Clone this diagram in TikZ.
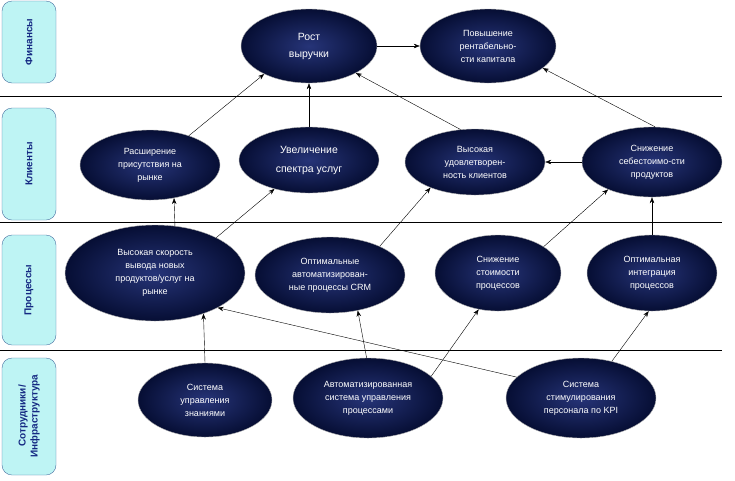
\documentclass[tikz,border=0pt]{standalone}
\usepackage{fontspec}
\setmainfont{Liberation Sans}
\usetikzlibrary{shapes.geometric,arrows.meta}
\definecolor{navyin}{RGB}{38,52,120}
\definecolor{navyout}{RGB}{6,14,52}
\definecolor{lanefill}{RGB}{190,244,244}
\definecolor{lanedraw}{RGB}{70,110,160}
\definecolor{lanetext}{RGB}{20,40,130}
\tikzset{
  goal/.style={ellipse,inner sep=0pt,inner color=navyin,outer color=navyout,draw=gray!60,
    text=white,align=center,font=\fontsize{9}{13}\selectfont},
  lane/.style={rounded corners=10pt,fill=lanefill,draw=lanedraw},
  lanelab/.style={text=lanetext,font=\bfseries\fontsize{10}{12}\selectfont,rotate=90,align=center},
  link/.style={-{Stealth[length=6pt,width=4.5pt]},black}
}
\begin{document}
\begin{tikzpicture}[x=1pt,y=1pt,yscale=-1]
\useasboundingbox (0,0) rectangle (735,480);

%lanes
\draw[lane] (2,1) rectangle (56,83);
\node[lanelab] (finlab) at (29,42) {Финансы};
\draw[lane] (2,108) rectangle (56,220);
\node[lanelab] (klilab) at (29,164) {Клиенты};
\draw[lane] (2,235) rectangle (56,345);
\node[lanelab] (prolab) at (29,290) {Процессы};
\draw[lane] (2,358) rectangle (56,475);
\node[lanelab] (sotlab) at (29,416) {Сотрудники/\\Инфраструктура};

%separators
\draw (0,96) -- (722,96);
\draw (0,222) -- (722,222);
\draw (0,350) -- (722,350);

%finance
\node[goal,minimum width=136pt,minimum height=74pt,font=\fontsize{10.5}{17}\selectfont] (rost) at (309,46) {Рост\\выручки};
\node[goal,minimum width=136pt,minimum height=74pt] (rent) at (488,46) {Повышение\\рентабельно-\\сти капитала};

%clients
\node[goal,minimum width=140pt,minimum height=70pt] (rasch) at (150,165) {Расширение\\присутствия на\\рынке};
\node[goal,minimum width=140pt,minimum height=66pt,font=\fontsize{10.5}{19}\selectfont] (uvel) at (309,160) {Увеличение\\спектра услуг};
\node[goal,minimum width=140pt,minimum height=66pt] (udov) at (475,162) {Высокая\\удовлетворен-\\ность клиентов};
\node[goal,minimum width=140pt,minimum height=70pt] (sebe) at (652,162) {Снижение\\себестоимо-сти\\продуктов};

%processes
\node[goal,minimum width=180pt,minimum height=96pt] (skor) at (155,273) {Высокая скорость\\вывода новых\\продуктов/услуг на\\рынке};
\node[goal,minimum width=150pt,minimum height=76pt] (crm) at (330,275) {Оптимальные\\автоматизирован-\\ные процессы CRM};
\node[goal,minimum width=126pt,minimum height=76pt] (stoi) at (498,273) {Снижение\\стоимости\\процессов};
\node[goal,minimum width=130pt,minimum height=76pt] (integ) at (652,273) {Оптимальная\\интеграция\\процессов};

%staff
\node[goal,minimum width=134pt,minimum height=74pt] (znan) at (205,400) {Система\\управления\\знаниями};
\node[goal,minimum width=150pt,minimum height=80pt] (avto) at (368,398) {Автоматизированная\\система управления\\процессами};
\node[goal,minimum width=150pt,minimum height=80pt] (stim) at (581,398) {Система\\стимулирования\\персонала по KPI};

%links
\draw[link] (rasch.37) -- (rost.212);
\draw[link] (uvel.north) -- (rost.south);
\draw[link] (udov.114) -- (rost.-30);
\draw[link] (rost.east) -- (rent.west);
\draw[link] (sebe.85) -- (rent.-22);
\draw[link] (sebe.west) -- (udov.east);
\draw[link] (skor.67) -- (rasch.-54);
\draw[link] (skor.30) -- (uvel.220);
\draw[link] (crm.30) -- (udov.210);
\draw[link] (stoi.30) -- (sebe.212);
\draw[link] (integ.north) -- (sebe.south);
\draw[link] (znan.north) -- (skor.-40);
\draw[link] (avto.92) -- (crm.-52);
\draw[link] (avto.19) -- (stoi.242);
\draw[link] (stim.162) -- (skor.-29);
\draw[link] (stim.50) -- (integ.265);
\end{tikzpicture}
\end{document}
